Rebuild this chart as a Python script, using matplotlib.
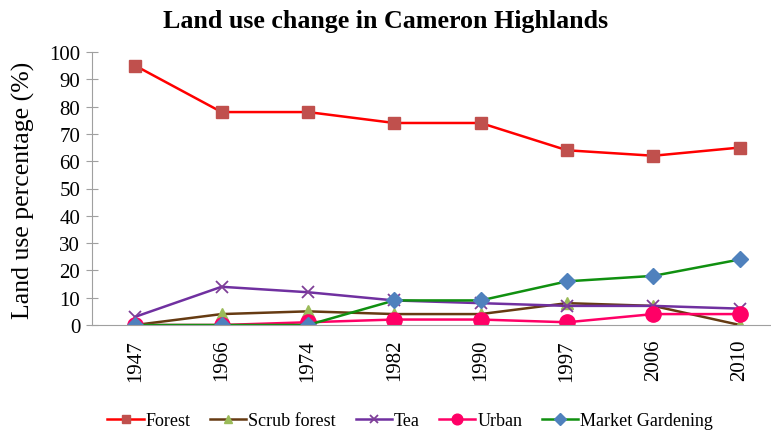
import numpy as np
import matplotlib.pyplot as plt

years = ['1947', '1966', '1974', '1982', '1990', '1997', '2006', '2010']
forest = [95, 78, 78, 74, 74, 64, 62, 65]
scrub_forest = [0, 4, 5, 4, 4, 8, 7, 0]
tea = [3, 14, 12, 9, 8, 7, 7, 6]
urban = [0, 0, 1, 2, 2, 1, 4, 4]
market_gardening = [0, 0, 0, 9, 9, 16, 18, 24]

plt.rcParams['font.family'] = ['Liberation Serif', 'DejaVu Serif']

fig = plt.figure(figsize=(7.71, 4.35), dpi=100)
ax = fig.add_axes([92 / 771, 1 - 326 / 435, 691 / 771, 273 / 435])

x = np.arange(len(years))
ax.plot(x, forest, color='#FF0000', lw=1.8, marker='s', ms=8.5,
        mfc='#C0504D', mec='#C0504D', label='Forest')
ax.plot(x, scrub_forest, color='#663B12', lw=1.8, marker='^', ms=9,
        mfc='#9BBB59', mec='#9BBB59', label='Scrub forest')
ax.plot(x, tea, color='#7030A0', lw=1.8, marker='x', ms=9, mew=1.3,
        mec='#7F3F98', label='Tea')
ax.plot(x, urban, color='#FF0066', lw=1.8, marker='o', ms=11,
        mfc='#FF0066', mec='#FF0066', label='Urban')
ax.plot(x, market_gardening, color='#109010', lw=1.8, marker='D', ms=8.5,
        mfc='#4F81BD', mec='#4F81BD', label='Market Gardening')

ax.set_xlim(-0.5, len(years) - 0.5)
ax.set_ylim(0, 100)
ax.set_yticks(range(0, 101, 10))
ax.set_xticks(x)
ax.set_xticklabels(years, rotation=90, fontsize=15)
ax.tick_params(axis='y', labelsize=15, direction='inout', length=9,
               color='#A0A0A0', pad=4)
ax.tick_params(axis='x', length=0, pad=10)

for side in ('top', 'right'):
    ax.spines[side].set_visible(False)
for side in ('left', 'bottom'):
    ax.spines[side].set_color('#A0A0A0')

fig.text(0.030, 0.563, 'Land use percentage (%)', rotation=90, ha='center',
         va='center', fontsize=18.5)
fig.text(0.5, 0.95, 'Land use change in Cameron Highlands', ha='center',
         va='center', fontsize=18.7, fontweight='bold')

fig.legend(loc='center', bbox_to_anchor=(0.532, 0.03), ncol=5, frameon=False,
           fontsize=13, handlelength=2.0, handletextpad=0.1,
           columnspacing=1.1, markerscale=0.7)

fig.savefig('out.png', dpi=100)
